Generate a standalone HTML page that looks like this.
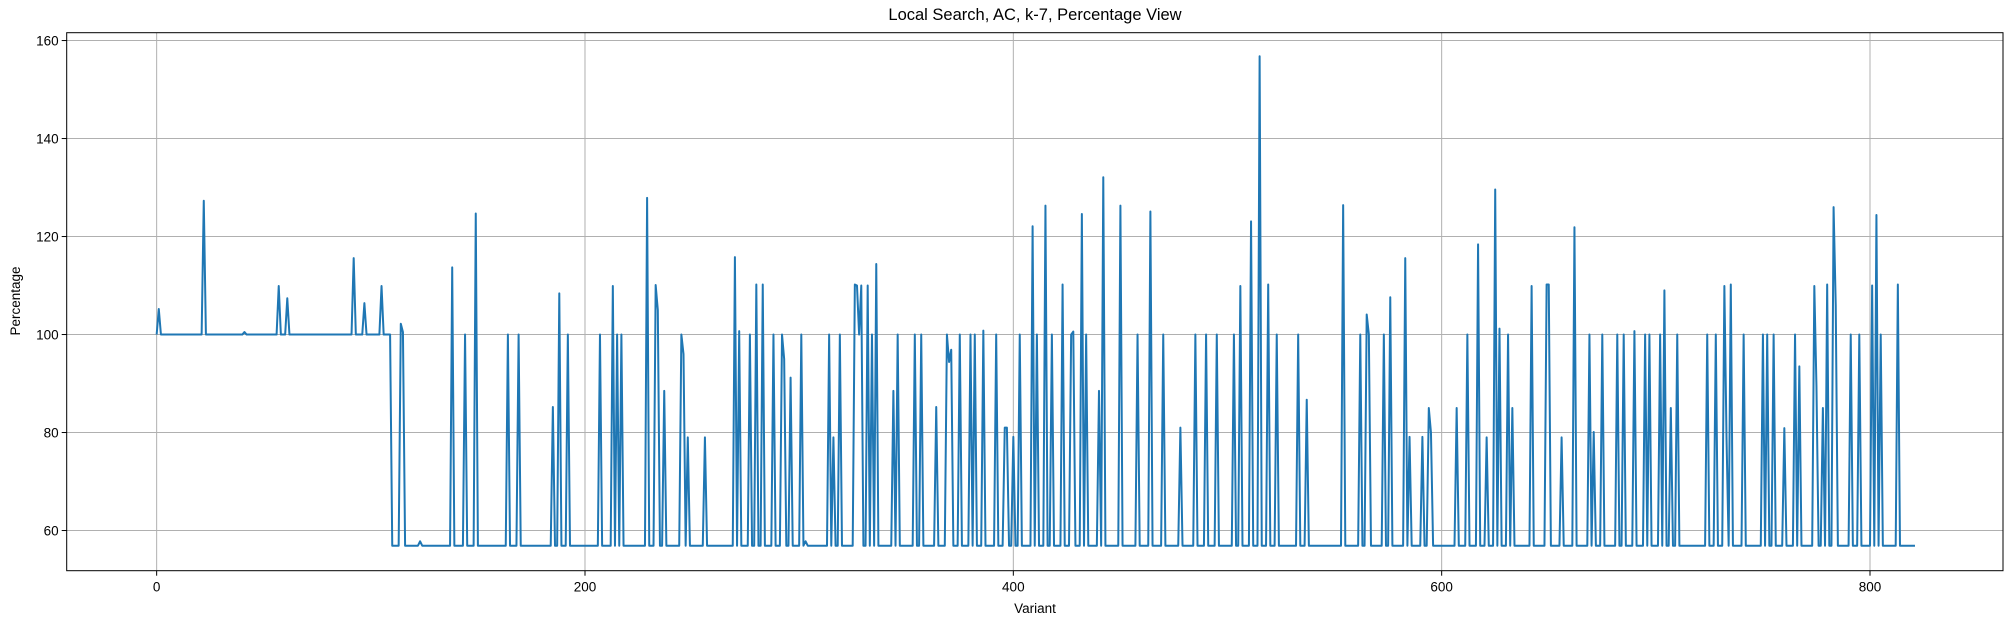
<!DOCTYPE html>
<html><head><meta charset="utf-8">
<style>
html,body{margin:0;padding:0;background:#fff;}
svg{display:block;font-family:"Liberation Sans","DejaVu Sans",sans-serif;}
</style></head>
<body>
<svg id="chart" width="2013" height="624" viewBox="0 0 2013 624" xmlns="http://www.w3.org/2000/svg">
<rect x="0" y="0" width="2013" height="624" fill="#fff"/>
<g id="grid"></g>
<g id="series"></g>
<rect x="66.7" y="32.7" width="1936.3" height="538" fill="none" stroke="#000" stroke-width="1"/>
<g id="ticks"></g>
<text x="1035" y="20" font-size="16.5" text-anchor="middle">Local Search, AC, k-7, Percentage View</text>
<text x="1035" y="613" font-size="13.5" text-anchor="middle">Variant</text>
<text transform="translate(20,301) rotate(-90)" font-size="13.5" text-anchor="middle">Percentage</text>
</svg>
<script>
const xTicks = [0, 200, 400, 600, 800];
const yTicks = [60, 80, 100, 120, 140, 160];
const nPoints = 822;
const plateauEnd = 109;
const plateauValue = 100;
const baseValue = 56.9;
const spikeIdx = [1,22,41,57,61,92,97,105,114,115,123,138,144,149,164,169,185,188,192,207,213,215,217,229,233,234,237,245,246,248,256,270,272,277,280,283,288,292,293,296,301,303,314,316,319,326,327,328,329,332,334,336,344,346,354,357,364,369,370,371,375,380,382,386,392,396,397,400,403,409,411,415,418,423,427,428,432,434,440,442,450,458,464,470,478,485,490,495,503,506,511,515,519,523,533,537,554,562,565,566,573,576,583,585,591,594,595,607,612,617,621,625,627,631,633,642,649,650,656,662,669,671,675,682,685,690,695,697,702,704,707,710,724,728,732,733,735,741,750,752,755,760,765,767,774,775,778,780,783,784,791,795,801,803,805,813];
const spikeVal = [105.2,127.3,100.5,109.9,107.4,115.6,106.4,109.9,102.2,100.5,57.8,113.7,100,124.7,100,100,85.2,108.4,100,100,109.9,100,100,127.9,110.1,105,88.5,100,96,79,79,115.8,100.7,100,110.2,110.2,100,100,95,91.2,100,57.8,100,79,100,110.2,110,100,110,110,100,114.4,88.5,100,100,100,85.2,100,94.4,96.9,100,100,100,100.8,100,81,81,79.1,100,122.1,100,126.3,100,110.2,100,100.6,124.6,100,88.5,132.1,126.3,100,125.1,100,81,100,100,100,100,109.9,123.1,156.8,110.2,100,100,86.7,126.4,100,104.1,100,100,107.6,115.6,79.1,79.1,85,80,85,100,118.4,79,129.6,101.2,100,85,109.9,110.2,110.2,79,121.9,100,80.1,100,100,100,100.7,100,100,100,109,85,100,100,100,109.9,79,110.2,100,100,100,100,80.9,100,93.5,109.9,89.4,85,110.2,126,106,100,100,110,124.4,100,110.2];

const X0 = 66.7, X1 = 2003, Y0 = 32.7, Y1 = 570.7;
const xMin = -42.0, xMax = 862.1, yMin = 51.8, yMax = 161.6;
function sx(v){ return X0 + (v - xMin) / (xMax - xMin) * (X1 - X0); }
function sy(v){ return Y1 - (v - yMin) / (yMax - yMin) * (Y1 - Y0); }
const NS = "http://www.w3.org/2000/svg";
function mk(tag, attrs){ const e = document.createElementNS(NS, tag); for (const k in attrs) e.setAttribute(k, attrs[k]); return e; }

const grid = document.getElementById('grid');
const ticks = document.getElementById('ticks');
xTicks.forEach(t => {
  const x = sx(t);
  const g = mk('line', {x1:x, x2:x, y1:Y0, y2:Y1, stroke:'#b0b0b0', 'stroke-width':1});
  
  
  grid.appendChild(g);
  const tk = mk('line', {x1:x, x2:x, y1:Y1, y2:Y1+5, stroke:'#000', 'stroke-width':1});
  
  
  ticks.appendChild(tk);
  const lb = mk('text', {x:x, y:Y1+21, 'font-size':13.5, 'text-anchor':'middle'});
  lb.textContent = String(t);
  
  
  ticks.appendChild(lb);
});
yTicks.forEach(t => {
  const y = sy(t);
  const g = mk('line', {x1:X0, x2:X1, y1:y, y2:y, stroke:'#b0b0b0', 'stroke-width':1});
  
  
  grid.appendChild(g);
  const tk = mk('line', {x1:X0-5, x2:X0, y1:y, y2:y, stroke:'#000', 'stroke-width':1});
  
  
  ticks.appendChild(tk);
  const lb = mk('text', {x:X0-8, y:y+5, 'font-size':13.5, 'text-anchor':'end'});
  lb.textContent = String(t);
  
  
  ticks.appendChild(lb);
});

const lookup = {};
spikeIdx.forEach((i, k) => { lookup[i] = spikeVal[k]; });
const pts = [];
for (let i = 0; i < nPoints; i++) {
  let v = (i in lookup) ? lookup[i] : (i <= plateauEnd ? plateauValue : baseValue);
  pts.push(sx(i).toFixed(2) + ',' + sy(v).toFixed(2));
}
const line = mk('polyline', {points: pts.join(' '), fill:'none', stroke:'#1f77b4', 'stroke-width':2, 'stroke-linejoin':'round'});


document.getElementById('series').appendChild(line);
</script>
</body></html>
